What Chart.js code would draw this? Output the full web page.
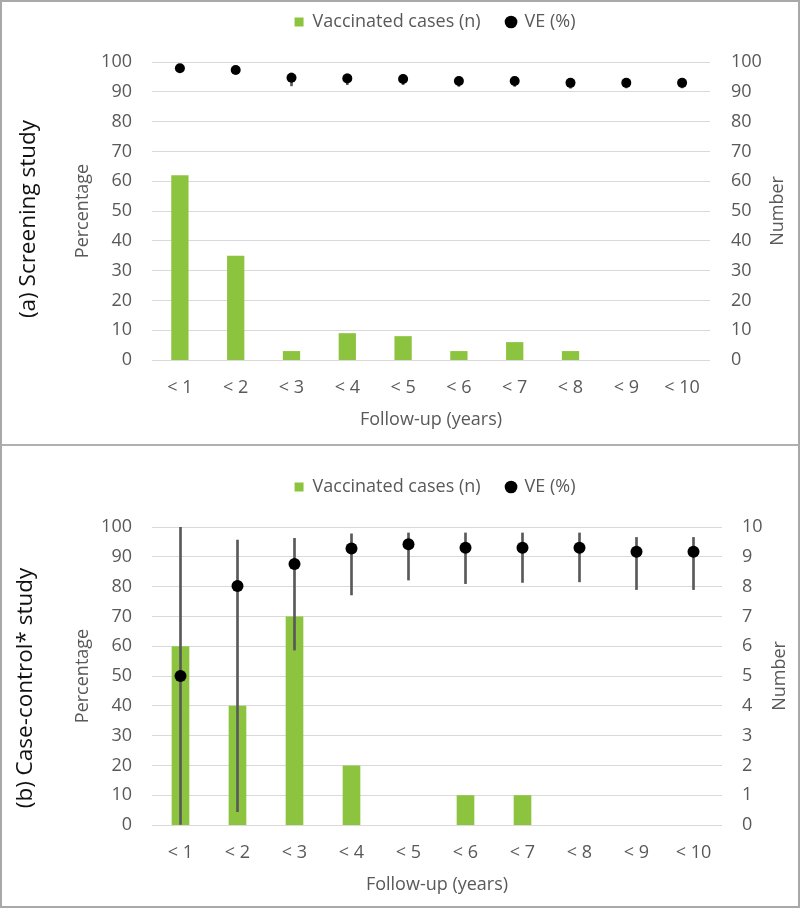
<!DOCTYPE html>
<html><head><meta charset="utf-8">
<script src="https://cdn.jsdelivr.net/npm/chart.js@4.4.1/dist/chart.umd.min.js"></script>
<style>
html,body{margin:0;padding:0;background:#fff}
#wrap{position:relative;width:800px;height:908px;overflow:hidden;background:#fff;font-family:'Open Sans',sans-serif}
canvas{position:absolute;left:0}
.plabel{position:absolute;transform:translate(-50%,-50%) rotate(-90deg);white-space:nowrap;font-size:22.5px;color:#111;line-height:1}
.frame{position:absolute;left:0;top:0;width:800px;height:908px;box-sizing:border-box;border:2px solid #a9a9a9;pointer-events:none}
.divider{position:absolute;left:0;top:444px;width:800px;height:2px;background:#b0b0b0}
</style></head><body>
<div id="wrap">
<canvas id="chartA" width="800" height="446" style="top:0"></canvas>
<canvas id="chartB" width="800" height="462" style="top:446px"></canvas>
<div class="plabel" style="left:27px;top:219px">(a) Screening study</div>
<div class="plabel" style="left:24px;top:688px">(b) Case-control* study</div>
<div class="divider"></div>
<div class="frame"></div>
</div>
<script>
// ---- data ----
const categories = ['< 1', '< 2', '< 3', '< 4', '< 5', '< 6', '< 7', '< 8', '< 9', '< 10'];
const legendLabels = ['Vaccinated cases (n)', 'VE (%)'];
const percentTitle = 'Percentage';
const numberTitle = 'Number';
const xTitle = 'Follow-up (years)';

// (a) Screening study
const screenCases = [62, 35, 3, 9, 8, 3, 6, 3, 0, 0];
const screenVE = [97.9, 97.3, 94.7, 94.5, 94.3, 93.6, 93.6, 93.0, 93.0, 93.0];
const screenVELow = [97.0, 96.2, 92.0, 92.4, 92.4, 91.8, 91.8, 91.2, 91.3, 91.3];
const screenVEHigh = [98.6, 98.2, 96.3, 96.0, 95.7, 95.0, 95.0, 94.5, 94.5, 94.5];
const screenNumberMax = 100;
const screenNumberStep = 10;

// (b) Case-control study
const ccCases = [6, 4, 7, 2, 0, 1, 1, 0, 0, 0];
const ccVE = [50, 80.2, 87.6, 92.8, 94.2, 93.0, 93.0, 93.0, 91.7, 91.7];
const ccVELow = [0, 4.5, 58.7, 77.2, 82.2, 81.0, 81.4, 81.6, 79.0, 79.0];
const ccVEHigh = [100, 95.6, 96.2, 97.7, 98.0, 98.0, 98.0, 98.0, 96.5, 96.5];
const ccNumberMax = 10;
const ccNumberStep = 1;

const percentMax = 100;
const percentStep = 10;

// ---- style ----
const FONT = "'Open Sans', sans-serif";
const GREEN = '#8dc43f';
const GRID = '#d9d9d9';
const TXT = '#595959';
const ERR = '#595959';
Chart.defaults.font.family = FONT;
Chart.defaults.color = TXT;

function build(id, p) {
  const extras = {
    id: 'extras' + id,
    beforeInit(chart) {
      const fit = chart.legend.fit;
      chart.legend.fit = function () { fit.call(this); this.height = p.legendH; };
    },
    afterLayout(chart) {
      chart.legend.top += p.legendDy;
      chart.legend.bottom += p.legendDy;
    },
    afterDraw(chart) {
      const { ctx, chartArea } = chart;
      ctx.save();
      ctx.translate(p.numX, (chartArea.top + chartArea.bottom) / 2);
      ctx.rotate(-Math.PI / 2);
      ctx.font = '18px ' + FONT;
      ctx.fillStyle = TXT;
      ctx.textAlign = 'center';
      ctx.textBaseline = 'middle';
      ctx.fillText(numberTitle, 0, 0);
      ctx.restore();
    }
  };
  return new Chart(document.getElementById(id), {
    type: 'bar',
    data: {
      labels: categories,
      datasets: [
        { type: 'bar', label: legendLabels[0], data: p.cases, yAxisID: 'y2', backgroundColor: GREEN,
          grouped: false, categoryPercentage: 1, barPercentage: 0.31, pointStyle: 'rect', order: 3 },
        { type: 'bar', label: 'CI', data: p.low.map((l, i) => [l, p.high[i]]), yAxisID: 'y',
          backgroundColor: ERR, grouped: false, barThickness: 2, order: 2 },
        { type: 'line', label: legendLabels[1], data: p.ve, yAxisID: 'y', showLine: false,
          pointRadius: p.dotR, pointHoverRadius: p.dotR, pointBackgroundColor: '#000', pointBorderColor: '#000',
          pointBorderWidth: 0, backgroundColor: '#000', borderColor: '#000', order: 1 }
      ]
    },
    options: {
      responsive: false,
      animation: false,
      events: [],
      layout: { padding: { left: 70, right: 0, top: 0, bottom: 0 } },
      plugins: {
        tooltip: { enabled: false },
        legend: {
          position: 'top',
          labels: {
            font: { size: 18 }, color: TXT, usePointStyle: true, boxWidth: 9, boxHeight: 9, padding: 26,
            generateLabels(chart) {
              const items = Chart.defaults.plugins.legend.labels.generateLabels(chart);
              return items.filter(it => it.datasetIndex !== 1)
                .sort((a, b) => a.datasetIndex - b.datasetIndex)
                .map(it => { it.pointStyle = it.datasetIndex === 0 ? 'rect' : 'circle'; it.lineWidth = 0; return it; });
            }
          }
        }
      },
      scales: {
        x: {
          grid: { display: false, drawTicks: false }, border: { display: false },
          ticks: { font: { size: 18 }, color: TXT, padding: 17, maxRotation: 0, autoSkip: false },
          title: { display: true, text: xTitle, font: { size: 18 }, color: TXT, padding: { top: 0, bottom: p.xTitlePad } },
          afterFit(s) { s.height = p.xH; }
        },
        y: {
          position: 'left', min: 0, max: percentMax,
          grid: { color: GRID, drawTicks: false, lineWidth: 1 }, border: { display: false },
          ticks: { stepSize: percentStep, font: { size: 18 }, color: TXT, padding: 20 },
          title: { display: true, text: percentTitle, font: { size: 18 }, color: TXT, padding: { top: 2, bottom: 0 } },
          afterFit(s) { s.width = 82; }
        },
        y2: {
          position: 'right', min: 0, max: p.numMax,
          grid: { display: false, drawTicks: false }, border: { display: false },
          ticks: { stepSize: p.numStep, font: { size: 18 }, color: TXT, padding: p.y2Pad },
          afterFit(s) { s.width = p.y2W; }
        }
      }
    },
    plugins: [extras]
  });
}

build('chartA', {
  cases: screenCases, ve: screenVE, low: screenVELow, high: screenVEHigh,
  numMax: screenNumberMax, numStep: screenNumberStep, dotR: 5,
  legendH: 62, legendDy: -13, xH: 86, xTitlePad: 15, y2W: 90, y2Pad: 21, numX: 778
});
build('chartB', {
  cases: ccCases, ve: ccVE, low: ccVELow, high: ccVEHigh,
  numMax: ccNumberMax, numStep: ccNumberStep, dotR: 6,
  legendH: 81, legendDy: 6, xH: 83, xTitlePad: 12, y2W: 78, y2Pad: 20, numX: 780
});
</script>
</body></html>
